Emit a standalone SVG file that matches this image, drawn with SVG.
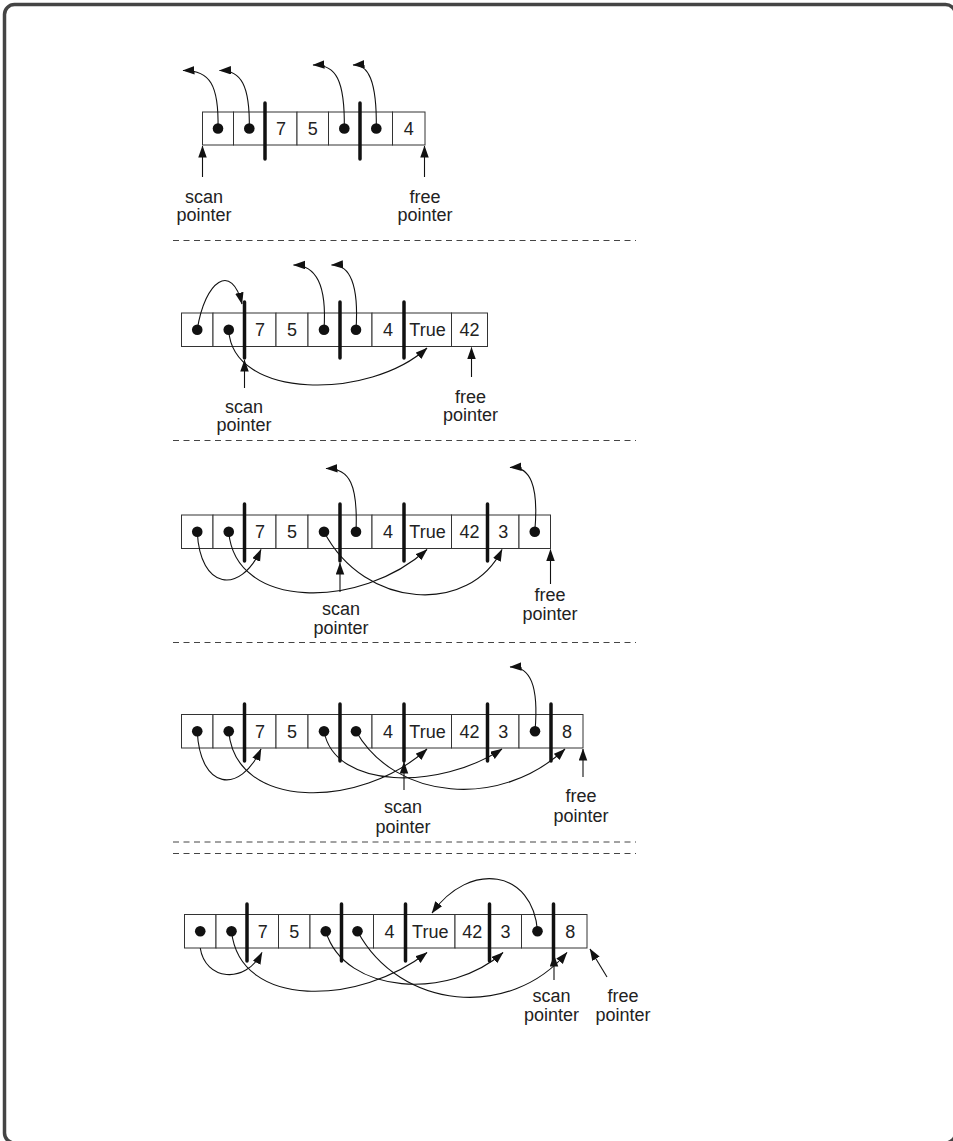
<svg xmlns="http://www.w3.org/2000/svg" width="953" height="1141" viewBox="0 0 953 1141">
<style>
.cell{fill:#fff;stroke:#333;stroke-width:1}
.bar{stroke:#111;stroke-width:3.5;stroke-linecap:round}
.dot{fill:#111}
.val{font-family:"Liberation Sans",Arial,sans-serif;font-size:18px;fill:#222;text-anchor:middle}
.lbl{font-family:"Liberation Sans",Arial,sans-serif;font-size:18px;fill:#222;text-anchor:middle}
.arr{fill:none;stroke:#111;stroke-width:1.1;marker-end:url(#ah)}
.dash{stroke:#444;stroke-width:1;stroke-dasharray:6 4.5}
</style>
<defs>
<marker id="ah" markerUnits="userSpaceOnUse" markerWidth="12" markerHeight="9" refX="11.5" refY="4.25" orient="auto">
<path d="M0,0 L12,4.25 L0,8.5 Z" fill="#111"/>
</marker>
</defs>
<rect x="4.5" y="4.5" width="951" height="1138.5" rx="10" fill="#fff" stroke="#444" stroke-width="3.5"/>

<g id="dividers">
<line class="dash" x1="173" y1="240.5" x2="636" y2="240.5"/>
<line class="dash" x1="173" y1="440.5" x2="636" y2="440.5"/>
<line class="dash" x1="173" y1="642.5" x2="636" y2="642.5"/>
<line class="dash" x1="173" y1="842" x2="636" y2="842"/>
<line class="dash" x1="173" y1="853.5" x2="636" y2="853.5"/>
</g>

<!-- Section 1 -->
<g id="s1-array">
<rect class="cell" x="202.5" y="112" width="31" height="33"/>
<rect class="cell" x="233.5" y="112" width="31.5" height="33"/>
<rect class="cell" x="265" y="112" width="32" height="33"/>
<rect class="cell" x="297" y="112" width="31.5" height="33"/>
<rect class="cell" x="328.5" y="112" width="31.5" height="33"/>
<rect class="cell" x="360" y="112" width="32.5" height="33"/>
<rect class="cell" x="392.5" y="112" width="32.5" height="33"/>
<circle class="dot" cx="218" cy="128.5" r="5.3"/>
<circle class="dot" cx="249.3" cy="128.5" r="5.3"/>
<circle class="dot" cx="344.3" cy="128.5" r="5.3"/>
<circle class="dot" cx="376.3" cy="128.5" r="5.3"/>
<text class="val" x="281" y="135">7</text>
<text class="val" x="312.8" y="135">5</text>
<text class="val" x="408.8" y="135">4</text>
<line class="bar" x1="265" y1="103" x2="265" y2="159"/>
<line class="bar" x1="360" y1="103" x2="360" y2="159"/>
</g>
<g id="s1-scan"><text class="lbl" x="204" y="203">scan</text><text class="lbl" x="204" y="221">pointer</text></g>
<g id="s1-free"><text class="lbl" x="425" y="203">free</text><text class="lbl" x="425" y="221">pointer</text></g>

<!-- Section 2 -->
<g id="s2-array">
<rect class="cell" x="181.5" y="313" width="31.5" height="33.5"/>
<rect class="cell" x="213" y="313" width="31.5" height="33.5"/>
<rect class="cell" x="244.5" y="313" width="31.5" height="33.5"/>
<rect class="cell" x="276" y="313" width="32" height="33.5"/>
<rect class="cell" x="308" y="313" width="32" height="33.5"/>
<rect class="cell" x="340" y="313" width="32" height="33.5"/>
<rect class="cell" x="372" y="313" width="32" height="33.5"/>
<rect class="cell" x="404" y="313" width="47.5" height="33.5"/>
<rect class="cell" x="451.5" y="313" width="36" height="33.5"/>
<circle class="dot" cx="197.25" cy="329.75" r="5.3"/>
<circle class="dot" cx="228.75" cy="329.75" r="5.3"/>
<circle class="dot" cx="324" cy="329.75" r="5.3"/>
<circle class="dot" cx="356" cy="329.75" r="5.3"/>
<text class="val" x="260" y="336">7</text>
<text class="val" x="292" y="336">5</text>
<text class="val" x="388" y="336">4</text>
<text class="val" x="427.5" y="336">True</text>
<text class="val" x="469.5" y="336">42</text>
<line class="bar" x1="244.5" y1="302" x2="244.5" y2="358"/>
<line class="bar" x1="340" y1="302" x2="340" y2="358"/>
<line class="bar" x1="404" y1="302" x2="404" y2="358"/>
</g>
<g id="s2-scan"><text class="lbl" x="244" y="413">scan</text><text class="lbl" x="244" y="431">pointer</text></g>
<g id="s2-free"><text class="lbl" x="470.5" y="403">free</text><text class="lbl" x="470.5" y="421">pointer</text></g>

<!-- Section 3 -->
<g id="s3-array">
<rect class="cell" x="181.5" y="515" width="31.5" height="33.5"/>
<rect class="cell" x="213" y="515" width="31.5" height="33.5"/>
<rect class="cell" x="244.5" y="515" width="31.5" height="33.5"/>
<rect class="cell" x="276" y="515" width="32" height="33.5"/>
<rect class="cell" x="308" y="515" width="32" height="33.5"/>
<rect class="cell" x="340" y="515" width="32" height="33.5"/>
<rect class="cell" x="372" y="515" width="32" height="33.5"/>
<rect class="cell" x="404" y="515" width="47.5" height="33.5"/>
<rect class="cell" x="451.5" y="515" width="36" height="33.5"/>
<rect class="cell" x="487.5" y="515" width="31.5" height="33.5"/>
<rect class="cell" x="519" y="515" width="31.5" height="33.5"/>
<circle class="dot" cx="197.25" cy="531.75" r="5.3"/>
<circle class="dot" cx="228.75" cy="531.75" r="5.3"/>
<circle class="dot" cx="324" cy="531.75" r="5.3"/>
<circle class="dot" cx="356" cy="531.75" r="5.3"/>
<circle class="dot" cx="534.75" cy="531.75" r="5.3"/>
<text class="val" x="260" y="538">7</text>
<text class="val" x="292" y="538">5</text>
<text class="val" x="388" y="538">4</text>
<text class="val" x="427.5" y="538">True</text>
<text class="val" x="469.5" y="538">42</text>
<text class="val" x="503.25" y="538">3</text>
<line class="bar" x1="244.5" y1="504" x2="244.5" y2="561"/>
<line class="bar" x1="340" y1="504" x2="340" y2="561"/>
<line class="bar" x1="404" y1="504" x2="404" y2="561"/>
<line class="bar" x1="487.5" y1="504" x2="487.5" y2="561"/>
</g>
<g id="s3-scan"><text class="lbl" x="341" y="615">scan</text><text class="lbl" x="341" y="634">pointer</text></g>
<g id="s3-free"><text class="lbl" x="550" y="601">free</text><text class="lbl" x="550" y="620">pointer</text></g>

<!-- Section 4 -->
<g id="s4-array">
<rect class="cell" x="181.5" y="714.5" width="31.5" height="33.5"/>
<rect class="cell" x="213" y="714.5" width="31.5" height="33.5"/>
<rect class="cell" x="244.5" y="714.5" width="31.5" height="33.5"/>
<rect class="cell" x="276" y="714.5" width="32" height="33.5"/>
<rect class="cell" x="308" y="714.5" width="32" height="33.5"/>
<rect class="cell" x="340" y="714.5" width="32" height="33.5"/>
<rect class="cell" x="372" y="714.5" width="32" height="33.5"/>
<rect class="cell" x="404" y="714.5" width="47.5" height="33.5"/>
<rect class="cell" x="451.5" y="714.5" width="36" height="33.5"/>
<rect class="cell" x="487.5" y="714.5" width="31.5" height="33.5"/>
<rect class="cell" x="519" y="714.5" width="32" height="33.5"/>
<rect class="cell" x="551" y="714.5" width="32" height="33.5"/>
<circle class="dot" cx="197.25" cy="731.25" r="5.3"/>
<circle class="dot" cx="228.75" cy="731.25" r="5.3"/>
<circle class="dot" cx="324" cy="731.25" r="5.3"/>
<circle class="dot" cx="356" cy="731.25" r="5.3"/>
<circle class="dot" cx="535" cy="731.25" r="5.3"/>
<text class="val" x="260" y="737.5">7</text>
<text class="val" x="292" y="737.5">5</text>
<text class="val" x="388" y="737.5">4</text>
<text class="val" x="427.5" y="737.5">True</text>
<text class="val" x="469.5" y="737.5">42</text>
<text class="val" x="503.25" y="737.5">3</text>
<text class="val" x="567" y="737.5">8</text>
<line class="bar" x1="244.5" y1="704" x2="244.5" y2="761"/>
<line class="bar" x1="340" y1="704" x2="340" y2="761"/>
<line class="bar" x1="404" y1="704" x2="404" y2="761"/>
<line class="bar" x1="487.5" y1="704" x2="487.5" y2="761"/>
<line class="bar" x1="551" y1="704" x2="551" y2="761"/>
</g>
<g id="s4-scan"><text class="lbl" x="403" y="813">scan</text><text class="lbl" x="403" y="833">pointer</text></g>
<g id="s4-free"><text class="lbl" x="581" y="802">free</text><text class="lbl" x="581" y="822">pointer</text></g>

<!-- Section 5 -->
<g id="s5-array">
<rect class="cell" x="184.5" y="914.5" width="31.5" height="33.5"/>
<rect class="cell" x="216" y="914.5" width="31" height="33.5"/>
<rect class="cell" x="247" y="914.5" width="31.5" height="33.5"/>
<rect class="cell" x="278.5" y="914.5" width="31.5" height="33.5"/>
<rect class="cell" x="310" y="914.5" width="31.5" height="33.5"/>
<rect class="cell" x="341.5" y="914.5" width="32" height="33.5"/>
<rect class="cell" x="373.5" y="914.5" width="32" height="33.5"/>
<rect class="cell" x="405.5" y="914.5" width="49.5" height="33.5"/>
<rect class="cell" x="455" y="914.5" width="34.5" height="33.5"/>
<rect class="cell" x="489.5" y="914.5" width="32" height="33.5"/>
<rect class="cell" x="521.5" y="914.5" width="32" height="33.5"/>
<rect class="cell" x="553.5" y="914.5" width="33.5" height="33.5"/>
<circle class="dot" cx="200.25" cy="931.25" r="5.3"/>
<circle class="dot" cx="231.5" cy="931.25" r="5.3"/>
<circle class="dot" cx="325.75" cy="931.25" r="5.3"/>
<circle class="dot" cx="357.5" cy="931.25" r="5.3"/>
<circle class="dot" cx="537.5" cy="931.25" r="5.3"/>
<text class="val" x="262.75" y="937.5">7</text>
<text class="val" x="294.25" y="937.5">5</text>
<text class="val" x="389.5" y="937.5">4</text>
<text class="val" x="430.25" y="937.5">True</text>
<text class="val" x="472.25" y="937.5">42</text>
<text class="val" x="505.5" y="937.5">3</text>
<text class="val" x="570.25" y="937.5">8</text>
<line class="bar" x1="247" y1="904" x2="247" y2="961"/>
<line class="bar" x1="341.5" y1="904" x2="341.5" y2="961"/>
<line class="bar" x1="405.5" y1="904" x2="405.5" y2="961"/>
<line class="bar" x1="489.5" y1="904" x2="489.5" y2="961"/>
<line class="bar" x1="553.5" y1="904" x2="553.5" y2="961"/>
</g>
<g id="s5-scan"><text class="lbl" x="551.5" y="1002">scan</text><text class="lbl" x="551.5" y="1021">pointer</text></g>
<g id="s5-free"><text class="lbl" x="623" y="1002">free</text><text class="lbl" x="623" y="1021">pointer</text></g>

<g id="connectors">
<!-- s1 -->
<path class="arr" d="M218 128.5 C219 85 210 70 183 70.5"/>
<path class="arr" d="M249.3 128.5 C250 85 241 70 219.5 70.5"/>
<path class="arr" d="M344.3 128.5 C345 80 336 64 313 65"/>
<path class="arr" d="M376.3 128.5 C377 80 368 64 353 65"/>
<path class="arr" d="M202.5 177 L202.5 146"/>
<path class="arr" d="M424.5 177 L424.5 146"/>
<!-- s2 -->
<path class="arr" d="M197.25 329.75 C205 280 232 262 242 304"/>
<path class="arr" d="M228.75 329.75 C232 400 370 400 427 348"/>
<path class="arr" d="M324 329.75 C327 285 316 265 293.5 265"/>
<path class="arr" d="M356 329.75 C359 285 350 264 331.5 265"/>
<path class="arr" d="M244.5 388 L244.5 360"/>
<path class="arr" d="M471.5 377 L471.5 347.5"/>
<!-- s3 -->
<path class="arr" d="M197.25 531.75 C200 590 240 595 261 549.5"/>
<path class="arr" d="M228.75 531.75 C235 610 360 610 427 549.5"/>
<path class="arr" d="M324 531.75 C365 610 470 615 502 549.5"/>
<path class="arr" d="M356 531.75 C358 485 350 468 326 468.5"/>
<path class="arr" d="M534.75 531.75 C539 485 530 466 510 467.5"/>
<path class="arr" d="M340 592 L340 563"/>
<path class="arr" d="M550.5 584 L550.5 549.5"/>
<!-- s4 -->
<path class="arr" d="M197.25 731.25 C200 790 240 795 261 749"/>
<path class="arr" d="M228.75 731.25 C235 810 360 810 427 749"/>
<path class="arr" d="M324 731.25 C335 790 440 790 502 749"/>
<path class="arr" d="M356 731.25 C395 800 500 810 565 749"/>
<path class="arr" d="M535 731.25 C539 685 530 666 510 667"/>
<path class="arr" d="M404 790 L404 762"/>
<path class="arr" d="M583 777 L583 749"/>
<!-- s5 -->
<path class="arr" d="M200.25 948 C205 980 245 985 262 952.5"/>
<path class="arr" d="M231.5 931.25 C240 1010 360 1005 427 952.5"/>
<path class="arr" d="M325.75 931.25 C345 995 450 1000 503 952.5"/>
<path class="arr" d="M357.5 931.25 C400 1010 510 1020 567 952.5"/>
<path class="arr" d="M537.5 931.25 C533 870 470 860 432 913"/>
<path class="arr" d="M554 980 L554 955"/>
<path class="arr" d="M607 977 L590 949"/>
</g>
</svg>
